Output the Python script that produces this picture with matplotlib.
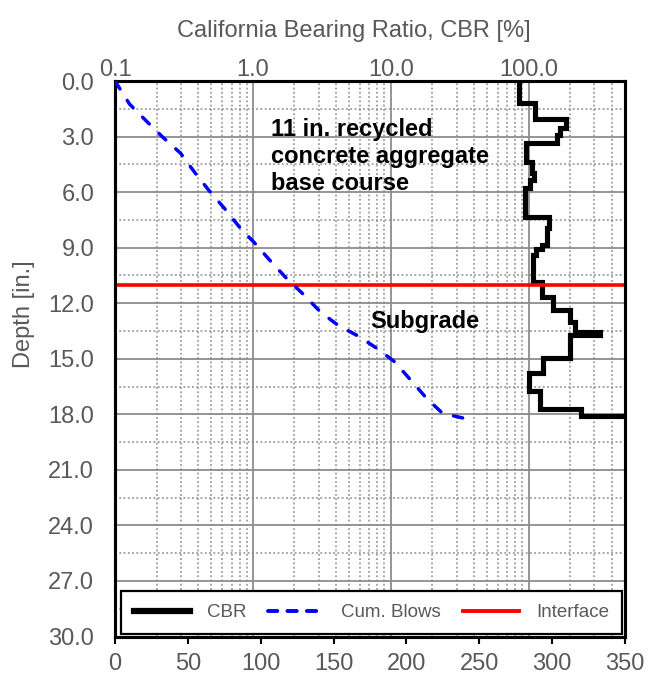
import matplotlib
matplotlib.use("Agg")
import matplotlib.pyplot as plt
from matplotlib.ticker import FixedLocator, LogLocator, NullFormatter, FuncFormatter
from matplotlib.lines import Line2D

plt.rcParams['font.family'] = ['Liberation Sans', 'DejaVu Sans']

# DCP profile: CBR per penetration interval (edges in inches)
depth_edges = [0, 1.2, 2.07, 2.56, 2.92, 3.33, 4.4, 4.95, 5.35, 5.8, 7.33,
               7.96, 8.86, 9.05, 9.4, 10.85, 11.66, 12.38, 13.0, 13.55, 13.73,
               14.96, 15.75, 16.76, 17.7, 18.09, 18.2]
cbr = [85, 111, 186, 169, 161, 95, 106, 109, 103, 94,
       141, 135, 126, 114, 108, 126, 151, 199, 217, 329,
       199, 128, 101, 121, 239, 900]

# cumulative blow count vs depth
blows = [0, 10, 22, 33, 45, 55, 65, 76, 86, 96, 106, 117, 129, 141, 153,
         167, 180, 192, 203, 214, 225, 240]
blow_depth = [0, 1.25, 2.2, 3.05, 3.9, 4.97, 5.96, 6.96, 7.95, 8.76, 9.66,
              10.6, 11.5, 12.47, 13.19, 13.78, 14.45, 15.17, 16.16, 17.15,
              17.96, 18.22]

interface_depth = 11.0

gray = '#595959'
grid_c = '#8c8c8c'

fig = plt.figure(figsize=(6.53, 6.82), dpi=100)
ax = fig.add_subplot(111)
fig.subplots_adjust(left=115/653, right=625/653, top=1-81/682, bottom=1-636.5/682)

ax2 = ax.twiny()
# host on top so the blow curve and legend sit over the grid
ax.set_zorder(2)
ax.patch.set_visible(False)
ax2.set_zorder(1)
ax2.patch.set_visible(True)
ax2.patch.set_facecolor('white')
ax2.yaxis.set_visible(True)

# CBR on log scale (top)
ax2.set_xscale('log')
ax2.set_xlim(0.1, 500)
ax2.xaxis.set_major_locator(FixedLocator([0.1, 1, 10, 100]))
ax2.xaxis.set_major_formatter(FuncFormatter(lambda v, p: f'{v:.1f}'))
ax2.xaxis.set_minor_locator(LogLocator(base=10, subs=range(2, 10), numticks=20))
ax2.xaxis.set_minor_formatter(NullFormatter())
ax2.tick_params(axis='x', which='both', length=0, labelsize=17, labelcolor=gray, pad=0)
ax2.tick_params(axis='y', which='both', left=False, right=False,
                labelleft=False, labelright=False)

ax2.stairs(cbr, depth_edges, orientation='horizontal', baseline=None,
           color='black', lw=3.7, zorder=4)
ax2.axhline(interface_depth, color='#ff0000', lw=2.6, zorder=5)

# depth axis
ax.set_ylim(30, 0)
ax.yaxis.set_major_locator(FixedLocator(range(0, 31, 3)))
ax.yaxis.set_major_formatter(FuncFormatter(lambda v, p: f'{v:.1f}'))
ax2.set_ylim(30, 0)
ax2.yaxis.set_major_locator(FixedLocator(range(0, 31, 3)))
ax2.yaxis.set_minor_locator(FixedLocator([1.5 + 3 * i for i in range(10)]))

# grid lives on the log axes
ax2.grid(which='major', axis='both', color=grid_c, lw=1.3, ls='-')
ax2.grid(which='minor', axis='both', color=grid_c, lw=1.1, ls=(0, (1.2, 1.6)))
ax2.set_axisbelow(True)

# cumulative blows (bottom, linear)
ax.set_xlim(0, 350)
ax.xaxis.set_major_locator(FixedLocator(range(0, 351, 50)))
ax.plot(blows, blow_depth, color='#0000ff', lw=2.5, ls=(0, (2.7, 3.9)),
        dash_capstyle='round', zorder=3)

ax.tick_params(axis='x', which='major', direction='out', length=5, width=1.5,
               color='black', labelsize=17, labelcolor=gray, pad=7)
ax.tick_params(axis='y', which='both', length=0, labelsize=17, labelcolor=gray, pad=15)

for a in (ax, ax2):
    for s in a.spines.values():
        s.set_color('black')
        s.set_linewidth(2.2)

ax.set_ylabel('Depth [in.]', fontsize=17, color=gray)
ax.yaxis.set_label_coords(-0.178, 0.58)
ax.yaxis.label.set_verticalalignment('center')
ax2.set_xlabel('California Bearing Ratio, CBR [%]', fontsize=17, color=gray)
ax2.xaxis.set_label_coords(0.469, 1.09)
ax2.xaxis.label.set_verticalalignment('center')

ax.text(107, 2.0, '11 in. recycled\nconcrete aggregate\nbase course',
        fontsize=17, fontweight='bold', color='black', va='top', ha='left',
        linespacing=1.22, zorder=6)
ax.text(175, 13.0, 'Subgrade', fontsize=17, fontweight='bold', color='black',
        va='center', ha='left', zorder=6)

handles = [Line2D([], [], color='black', lw=4.5),
           Line2D([], [], color='#0000ff', lw=2.8, ls=(0, (2.4, 2.6)),
                  dash_capstyle='round'),
           Line2D([], [], color='#ff0000', lw=2.8)]
leg = ax.legend(handles, ['CBR', 'Cum. Blows', 'Interface'], ncol=3,
                loc='lower left', bbox_to_anchor=(0.012, 0.004, 0.982, 0.082),
                mode='expand', borderaxespad=0, fontsize=13.5, handlelength=3.0,
                handletextpad=0.9, columnspacing=1.0, borderpad=0.7,
                fancybox=False, framealpha=1, edgecolor='black')
leg.get_frame().set_linewidth(1.6)
for t in leg.get_texts():
    t.set_color(gray)

fig.savefig('out.png', dpi=100, facecolor='white')
